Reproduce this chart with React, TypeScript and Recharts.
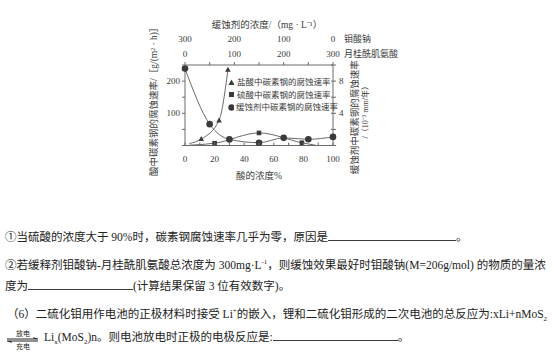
import React from 'react';
import { ComposedChart, Line, XAxis, YAxis, Legend } from 'recharts';

// bottom axis: acid concentration %
const acidTicks = [0, 10, 20, 30, 40, 50, 60, 70, 80, 90, 100];
const leftTicks = [0, 50, 100, 150, 200, 250];
const rightTicks = [0, 2, 4, 6, 8, 10];
// top axis: 月桂酰肌氨酸 concentration (钼酸钠 = 300 - value)
const inhibTicks = [0, 50, 100, 150, 200, 250, 300];

// 盐酸中碳素钢的腐蚀速率, g/(m²·h)
const hclAcid = [3, 11, 23, 29];
const hclRate = [6, 20, 78, 235];
const hclMark = [false, true, true, true];

// 硫酸中碳素钢的腐蚀速率, g/(m²·h)
const h2so4Acid = [3, 20, 50, 79, 89];
const h2so4Rate = [1, 7, 39, 8.5, 0];
const h2so4Mark = [false, true, true, true, false];

// 缓蚀剂中碳素钢的腐蚀速率, 10^-3 mm/年 (x = 月桂酰肌氨酸 mg/L)
const inhibConc = [0, 50, 90, 150, 200, 250, 300];
const inhibRate = [9.55, 2.65, 0.76, 0.35, 0.95, 0.77, 1.07];

const hclData = hclAcid.map((x, i) => ({ x, y: hclRate[i], mark: hclMark[i] }));
const h2so4Data = h2so4Acid.map((x, i) => ({ x, y: h2so4Rate[i], mark: h2so4Mark[i] }));
const inhibData = inhibConc.map((x, i) => ({ x, y: inhibRate[i], mark: true }));

const FONT = '"Liberation Serif", "Noto Sans CJK SC", serif';
const INK = '#3a3a3a';
const LINE = '#6a6a6a';

const Tri = (props: any) => {
  const { cx, cy, payload, index } = props;
  if (!payload?.mark) return <g key={'t' + index} />;
  return <path key={'t' + index} d={`M${cx},${cy - 3}L${cx - 2.8},${cy + 2}L${cx + 2.8},${cy + 2}Z`} fill={INK} />;
};
const Sq = (props: any) => {
  const { cx, cy, payload, index } = props;
  if (!payload?.mark) return <g key={'s' + index} />;
  return <rect key={'s' + index} x={cx - 2.3} y={cy - 2.3} width={4.6} height={4.6} fill={INK} />;
};
const Dot = (props: any) => {
  const { cx, cy, index } = props;
  return <circle key={'c' + index} cx={cx} cy={cy} r={3.3} fill={INK} />;
};

const AcidTick = ({ x, y, payload }: any) => (
  <g>
    <line x1={x} y1={y} x2={x} y2={y - 3} stroke={LINE} />
    {payload.value % 20 === 0 && (
      <text x={x} y={y + 16} textAnchor="middle" fontSize={9} fill={INK} fontFamily={FONT}>
        {payload.value}
      </text>
    )}
  </g>
);

const LeftTick = ({ x, y, payload }: any) => (
  <g>
    <line x1={x} y1={y} x2={x - 3} y2={y} stroke={LINE} />
    {(payload.value === 100 || payload.value === 200) && (
      <text x={x - 5} y={y + 3} textAnchor="end" fontSize={9} fill={INK} fontFamily={FONT}>
        {payload.value}
      </text>
    )}
  </g>
);

const RightTick = ({ x, y, payload }: any) => (
  <g>
    <line x1={x - 2} y1={y} x2={x + 3} y2={y} stroke={LINE} />
    {(payload.value === 4 || payload.value === 8) && (
      <text x={x + 6} y={y + 3} textAnchor="start" fontSize={9} fill={INK} fontFamily={FONT}>
        {payload.value}
      </text>
    )}
  </g>
);

const TopTick = ({ x, y, payload }: any) => {
  const v = payload.value;
  return (
    <g>
      <line x1={x} y1={y} x2={x} y2={y - 3} stroke={LINE} />
      {v % 100 === 0 && (
        <>
          <text x={x} y={y - 23} textAnchor="middle" fontSize={9} fill={INK} fontFamily={FONT}>
            {300 - v}
          </text>
          <text x={x} y={y - 8} textAnchor="middle" fontSize={9} fill={INK} fontFamily={FONT}>
            {v}
          </text>
        </>
      )}
      {v === 300 && (
        <>
          <text x={x + 11} y={y - 23} fontSize={9} fill={INK} fontFamily={FONT}>钼酸钠</text>
          <text x={x + 11} y={y - 8} fontSize={9} fill={INK} fontFamily={FONT}>月桂酰肌氨酸</text>
        </>
      )}
    </g>
  );
};

const TopTitle = ({ viewBox }: any) => (
  <text
    x={viewBox.x + viewBox.width / 2 + 8}
    y={viewBox.y + 8}
    textAnchor="middle"
    fontSize={9.5}
    fill={INK}
    fontFamily={FONT}
  >
    缓蚀剂的浓度/（mg · L⁻¹）
  </text>
);

const BottomTitle = ({ viewBox }: any) => (
  <text x={viewBox.x + viewBox.width / 2} y={viewBox.y + 33} textAnchor="middle" fontSize={9.5} fill={INK} fontFamily={FONT}>
    酸的浓度%
  </text>
);

const LeftTitle = ({ viewBox }: any) => {
  const cx = viewBox.x + 4;
  const cy = viewBox.y + viewBox.height / 2 - 6;
  return (
    <text x={cx} y={cy} transform={`rotate(-90 ${cx} ${cy})`} textAnchor="middle" dominantBaseline="central" fontSize={9.5} fill={INK} fontFamily={FONT}>
      酸中碳素钢的腐蚀速率/［g/(m² · h)］
    </text>
  );
};

const RightTitle = ({ viewBox }: any) => {
  const x1 = viewBox.x + 22;
  const y1 = viewBox.y + viewBox.height / 2 + 12;
  const x2 = viewBox.x + 32;
  const y2 = viewBox.y + viewBox.height / 2 + 5;
  return (
    <g>
      <text x={x1} y={y1} transform={`rotate(-90 ${x1} ${y1})`} textAnchor="middle" dominantBaseline="central" fontSize={9.5} fill={INK} fontFamily={FONT}>
        缓蚀剂中碳素钢的腐蚀速率
      </text>
      <text x={x2} y={y2} transform={`rotate(-90 ${x2} ${y2})`} textAnchor="middle" dominantBaseline="central" fontSize={8} fill={INK} fontFamily={FONT}>
        /（10⁻³ mm/年）
      </text>
    </g>
  );
};

const legendRows = [
  { name: '盐酸中碳素钢的腐蚀速率', shape: 'tri' },
  { name: '硫酸中碳素钢的腐蚀速率', shape: 'sq' },
  { name: '缓蚀剂中碳素钢的腐蚀速率', shape: 'dot' },
];

const LegendBox = () => (
  <div style={{ fontFamily: FONT, fontSize: 8.5, color: INK, lineHeight: '12.5px' }}>
    {legendRows.map((r) => (
      <div key={r.name} style={{ whiteSpace: 'nowrap', display: 'flex', alignItems: 'center' }}>
        <svg width={7} height={7} style={{ marginRight: 2 }}>
          {r.shape === 'tri' && <path d="M3.5,0.5L0.5,6L6.5,6Z" fill={INK} />}
          {r.shape === 'sq' && <rect x={1} y={1} width={5} height={5} fill={INK} />}
          {r.shape === 'dot' && <circle cx={3.5} cy={3.5} r={3.2} fill={INK} />}
        </svg>
        <span>{r.name}</span>
      </div>
    ))}
  </div>
);

const Blank = ({ w }: { w: number }) => (
  <span style={{ display: 'inline-block', width: w, borderBottom: `1px solid ${INK}`, height: 11, verticalAlign: 'baseline' }} />
);

const textLine = (top: number, left: number): React.CSSProperties => ({
  position: 'absolute',
  top,
  left,
  whiteSpace: 'nowrap',
  fontFamily: FONT,
  fontSize: 11.5,
  lineHeight: '16px',
  color: '#222',
});

export default function App() {
  return (
    <div style={{ position: 'absolute', left: 0, top: 0, width: 554, height: 353, background: '#fff', overflow: 'hidden' }}>
      <ComposedChart
        width={554}
        height={225}
        margin={{ top: 20, right: 176, bottom: 7, left: 150 }}
        style={{ position: 'absolute', left: 0, top: 0 }}
      >
        <XAxis
          xAxisId="acid"
          dataKey="x"
          type="number"
          orientation="bottom"
          domain={[0, 100]}
          ticks={acidTicks}
          interval={0}
          height={35}
          tickSize={0}
          tickMargin={0}
          tickLine={false}
          tick={<AcidTick />}
          axisLine={{ stroke: LINE }}
          label={<BottomTitle />}
        />
        <XAxis
          xAxisId="inhib"
          dataKey="x"
          type="number"
          orientation="top"
          domain={[0, 300]}
          ticks={inhibTicks}
          interval={0}
          height={45}
          tickSize={0}
          tickMargin={0}
          tickLine={false}
          tick={<TopTick />}
          axisLine={{ stroke: LINE }}
          label={<TopTitle />}
        />
        <YAxis
          yAxisId="left"
          orientation="left"
          type="number"
          domain={[0, 250]}
          ticks={leftTicks}
          interval={0}
          width={35}
          tickSize={0}
          tickMargin={0}
          tickLine={false}
          tick={<LeftTick />}
          axisLine={{ stroke: LINE }}
          label={<LeftTitle />}
        />
        <YAxis
          yAxisId="right"
          orientation="right"
          type="number"
          domain={[0, 10]}
          ticks={rightTicks}
          interval={0}
          width={45}
          tickSize={0}
          tickMargin={0}
          tickLine={false}
          tick={<RightTick />}
          axisLine={{ stroke: LINE }}
          label={<RightTitle />}
        />
        <Legend
          layout="vertical"
          content={<LegendBox />}
          wrapperStyle={{ position: 'absolute', left: 228, top: 76, width: 110 }}
        />
        <Line
          name="盐酸中碳素钢的腐蚀速率"
          xAxisId="acid"
          yAxisId="left"
          data={hclData}
          dataKey="y"
          type="monotone"
          stroke={LINE}
          strokeWidth={1}
          dot={Tri}
          activeDot={false}
          isAnimationActive={false}
        />
        <Line
          name="硫酸中碳素钢的腐蚀速率"
          xAxisId="acid"
          yAxisId="left"
          data={h2so4Data}
          dataKey="y"
          type="monotone"
          stroke={LINE}
          strokeWidth={1}
          dot={Sq}
          activeDot={false}
          isAnimationActive={false}
        />
        <Line
          name="缓蚀剂中碳素钢的腐蚀速率"
          xAxisId="inhib"
          yAxisId="right"
          data={inhibData}
          dataKey="y"
          type="monotone"
          stroke={LINE}
          strokeWidth={1}
          dot={Dot}
          activeDot={false}
          isAnimationActive={false}
        />
      </ComposedChart>

      <div style={textLine(229, 5)}>
        ①当硫酸的浓度大于 90%时，碳素钢腐蚀速率几乎为零，原因是<Blank w={128} />。
      </div>
      <div style={textLine(254, 5)}>
        ②若缓释剂钼酸钠-月桂酰肌氨酸总浓度为 300mg·L<sup style={{ fontSize: 7 }}>-1</sup>，则缓蚀效果最好时钼酸钠(M=206g/mol) 的物质的量浓
      </div>
      <div style={textLine(278, 5)}>
        度为<Blank w={105} />(计算结果保留 3 位有效数字)。
      </div>
      <div style={textLine(303, 7)}>
        （6）二硫化钼用作电池的正极材料时接受 Li<sup style={{ fontSize: 7 }}>+</sup>的嵌入，锂和二硫化钼形成的二次电池的总反应为:xLi+nMoS<sub style={{ fontSize: 7 }}>2</sub>
      </div>
      <div style={{ ...textLine(329, 5), display: 'flex', alignItems: 'center' }}>
        <svg width={36} height={22} style={{ marginRight: 3 }}>
          <text x={18} y={7} textAnchor="middle" fontSize={7} fill="#222" fontFamily={FONT}>放电</text>
          <line x1={2} y1={10} x2={33} y2={10} stroke="#222" />
          <path d="M33,10L28,8L29,10Z" fill="#222" />
          <line x1={2} y1={12} x2={33} y2={12} stroke="#222" />
          <path d="M2,12L7,14L6,12Z" fill="#222" />
          <text x={18} y={20} textAnchor="middle" fontSize={7} fill="#222" fontFamily={FONT}>充电</text>
        </svg>
        <span>
          Li<sub style={{ fontSize: 7 }}>x</sub>(MoS<sub style={{ fontSize: 7 }}>2</sub>)n。则电池放电时正极的电极反应是:<Blank w={125} />。
        </span>
      </div>
    </div>
  );
}
